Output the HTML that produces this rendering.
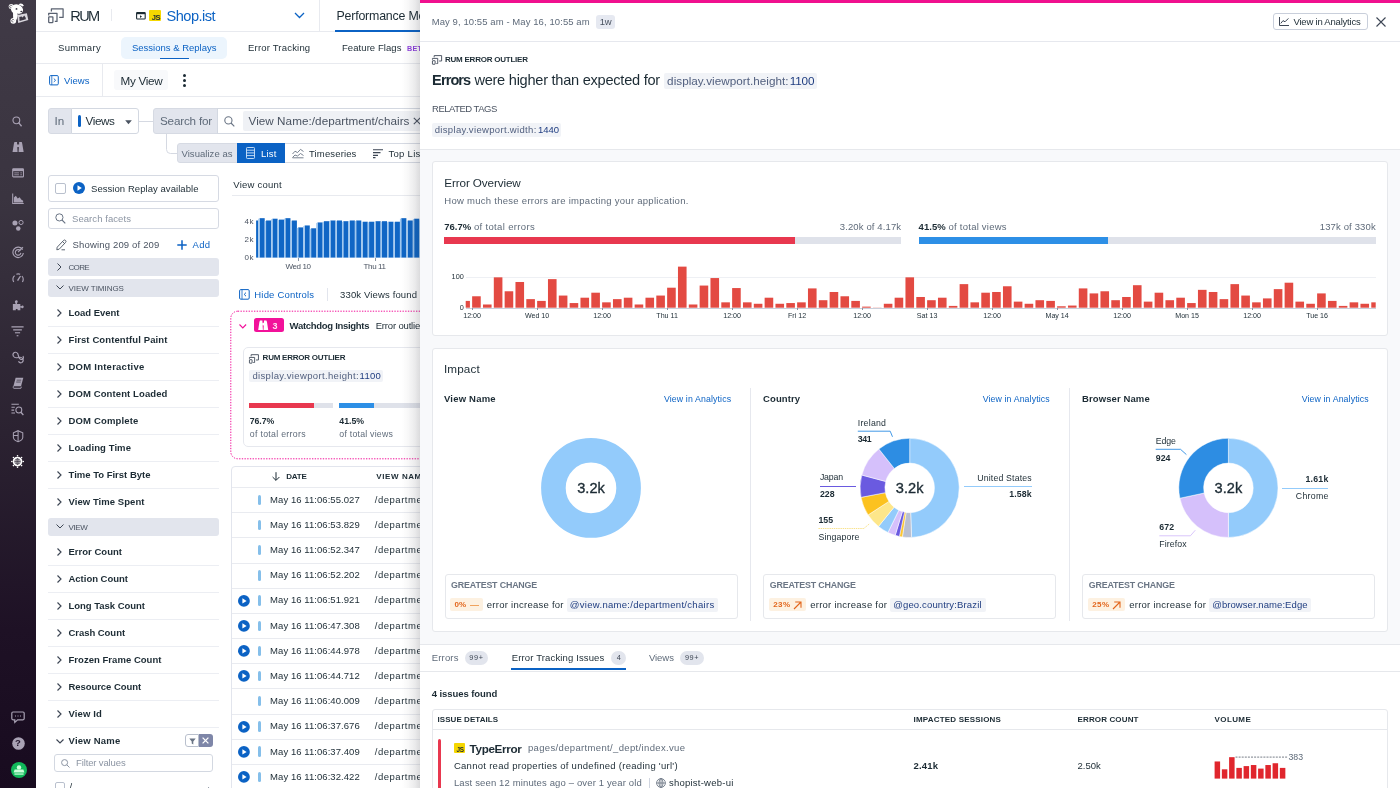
<!DOCTYPE html>
<html><head><meta charset="utf-8"><title>RUM</title>
<style>
html,body{margin:0;padding:0;}
body{width:1400px;height:788px;overflow:hidden;position:relative;background:#fff;font-family:"Liberation Sans",sans-serif;color:#1c2b34;}
.a{position:absolute;box-sizing:border-box;}
.t{white-space:pre;}
svg{overflow:visible;}
#root{position:absolute;left:0;top:0;width:1400px;height:788px;overflow:hidden;will-change:transform;}
</style></head><body><div id="root">
<div class="a" style="left:36px;top:30.6px;width:400px;height:1px;background:#e8eaef;"></div>
<div class="a" style="left:36px;top:62.6px;width:400px;height:1px;background:#e8eaef;"></div>
<div class="a" style="left:36px;top:96.2px;width:400px;height:1px;background:#e8eaef;"></div>
<svg class="a" style="left:48px;top:8px;" width="16" height="15" viewBox="0 0 16 15"><g fill="none" stroke="#596170" stroke-width="1.25" stroke-linejoin="round"><path d="M3.4 3.6V0.9H15.1V9.4H11.2"/><path d="M0.7 7.4V5.3H9V13.4H6.8"/><rect x="0.7" y="8.9" width="4.2" height="5.6" rx="0.4"/></g></svg>
<span class="a t" style="left:70.30px;top:6.67px;font-size:14.6px;line-height:19px;color:#1c2b34;letter-spacing:-1.678px;">RUM</span>
<div class="a" style="left:111px;top:8.6px;width:1px;height:12.2px;background:#e8eaef;"></div>
<svg class="a" style="left:136px;top:11.9px;" width="9.8" height="7.6" viewBox="0 0 9.8 7.6"><rect x="0.6" y="0.6" width="8.6" height="6.4" rx="0.8" fill="none" stroke="#1c2b34" stroke-width="1.1"/><rect x="0.6" y="0.4" width="8.6" height="1.8" fill="#1c2b34"/><path d="M4 3.3L6 4.6L4 5.9Z" fill="#1c2b34"/></svg>
<div class="a" style="left:148.9px;top:10px;width:11.7px;height:11.4px;background:#f5d800;border-radius:1px;"></div>
<span class="a t" style="left:151.80px;top:12.99px;font-size:7.6px;line-height:10px;color:#1c2b34;font-weight:700;letter-spacing:-0.444px;">JS</span>
<span class="a t" style="left:166.50px;top:6.57px;font-size:14.6px;line-height:19px;color:#0b62c4;letter-spacing:-0.529px;">Shop.ist</span>
<svg class="a" style="left:294px;top:12px;" width="11" height="7" viewBox="0 0 11 7"><path d="M1 1L5.5 5.5L10 1" fill="none" stroke="#0b62c4" stroke-width="1.3"/></svg>
<div class="a" style="left:319px;top:0px;width:1px;height:31px;background:#e8eaef;"></div>
<span class="a t" style="left:336.50px;top:7.64px;font-size:12.4px;line-height:16px;color:#1c2b34;letter-spacing:-0.199px;">Performance Mo</span>
<div class="a" style="left:335px;top:29.5px;width:90px;height:2.5px;background:#0b62c4;"></div>
<span class="a t" style="left:58.00px;top:41.61px;font-size:9.5px;line-height:12px;color:#1c2b34;letter-spacing:0.337px;">Summary</span>
<div class="a" style="left:121.3px;top:36.8px;width:105.6px;height:22.2px;background:#ecf5fd;border-radius:5px;"></div>
<span class="a t" style="left:132.00px;top:41.61px;font-size:9.5px;line-height:12px;color:#0b62c4;">Sessions &amp; Replays</span>
<div class="a" style="left:160px;top:57.7px;width:29px;height:1.7px;background:#0b62c4;"></div>
<span class="a t" style="left:248.00px;top:41.61px;font-size:9.5px;line-height:12px;color:#1c2b34;letter-spacing:0.191px;">Error Tracking</span>
<span class="a t" style="left:342.00px;top:41.61px;font-size:9.5px;line-height:12px;color:#1c2b34;letter-spacing:0.068px;">Feature Flags</span>
<span class="a t" style="left:407.00px;top:43.58px;font-size:7.2px;line-height:9px;color:#8d3fdd;font-weight:700;letter-spacing:0.242px;">BETA</span>
<svg class="a" style="left:48.8px;top:75px;" width="9.9" height="10.5" viewBox="0 0 9.9 10.5"><rect x="0.6" y="0.6" width="8.7" height="9.3" rx="1.1" fill="none" stroke="#0b62c4" stroke-width="1"/><path d="M2.8 0.6V9.9" stroke="#0b62c4" stroke-width="0.8"/><path d="M4.8 3.6L6.6 5.25L4.8 6.9" fill="none" stroke="#0b62c4" stroke-width="0.9"/></svg>
<span class="a t" style="left:64.00px;top:74.61px;font-size:9.5px;line-height:12px;color:#0b62c4;letter-spacing:0.066px;">Views</span>
<div class="a" style="left:102px;top:64px;width:1px;height:32px;background:#e8eaef;"></div>
<div class="a" style="left:114px;top:70px;width:54px;height:20px;background:#f8f9fb;border-radius:3px;"></div>
<span class="a t" style="left:120.50px;top:73.13px;font-size:11.7px;line-height:15px;color:#1c2b34;letter-spacing:-0.278px;">My View</span>
<div class="a" style="left:183.1px;top:74.3px;width:3px;height:3px;background:#1c2b34;border-radius:2px;"></div>
<div class="a" style="left:183.1px;top:78.95px;width:3px;height:3px;background:#1c2b34;border-radius:2px;"></div>
<div class="a" style="left:183.1px;top:83.6px;width:3px;height:3px;background:#1c2b34;border-radius:2px;"></div>
<div class="a" style="left:48px;top:108px;width:24px;height:26px;background:#e2e5ed;border:1px solid #d6dae3;border-radius:3px 0 0 3px;"></div>
<span class="a t" style="left:54.50px;top:113.13px;font-size:11.7px;line-height:15px;color:#5f6b7a;letter-spacing:0.126px;">In</span>
<div class="a" style="left:71px;top:108px;width:68px;height:26px;background:#fff;border:1px solid #d3d8e1;border-radius:0 3px 3px 0;"></div>
<div class="a" style="left:77.5px;top:115px;width:3px;height:12px;background:#0b62c4;border-radius:1.5px;"></div>
<span class="a t" style="left:85.50px;top:113.13px;font-size:11.7px;line-height:15px;color:#1c2b34;letter-spacing:-0.393px;">Views</span>
<svg class="a" style="left:125px;top:119.6px;" width="7" height="4.4" viewBox="0 0 7 4.4"><path d="M0.2 0.2H6.8L3.5 4.2Z" fill="#4a5361"/></svg>
<div class="a" style="left:139px;top:120.5px;width:14px;height:1px;background:#d5d9e2;"></div>
<div class="a" style="left:153px;top:108px;width:65px;height:26px;background:#e2e5ed;border:1px solid #d6dae3;border-radius:3px 0 0 3px;"></div>
<span class="a t" style="left:160.00px;top:113.13px;font-size:11.7px;line-height:15px;color:#5f6b7a;letter-spacing:-0.192px;">Search for</span>
<div class="a" style="left:217px;top:108px;width:230px;height:26px;background:#fff;border:1px solid #d3d8e1;"></div>
<svg class="a" style="left:224px;top:116px;" width="11" height="11" viewBox="0 0 11 11"><circle cx="4.4" cy="4.4" r="3.6" fill="none" stroke="#6a7585" stroke-width="1.1"/><path d="M7 7L10.3 10.3" stroke="#6a7585" stroke-width="1.2"/></svg>
<div class="a" style="left:243px;top:111px;width:190px;height:20px;background:#eff1f5;border-radius:2px;"></div>
<span class="a t" style="left:248.50px;top:113.13px;font-size:11.7px;line-height:15px;color:#4a5361;letter-spacing:0.051px;">View Name:/department/chairs</span>
<svg class="a" style="left:413px;top:117px;" width="8" height="8" viewBox="0 0 8 8"><path d="M0.8 0.8L7.2 7.2M7.2 0.8L0.8 7.2" stroke="#4a5361" stroke-width="1.1"/></svg>
<svg class="a" style="left:160px;top:134px;" width="20" height="22" viewBox="0 0 20 22"><path d="M6.5 0V15.5Q6.5 19.5 10.5 19.5H17" fill="none" stroke="#d5d9e2" stroke-width="1"/></svg>
<div class="a" style="left:177px;top:143px;width:61px;height:20px;background:#e2e5ed;border:1px solid #d6dae3;border-radius:3px 0 0 3px;"></div>
<span class="a t" style="left:181.50px;top:147.71px;font-size:9.5px;line-height:12px;color:#5f6b7a;letter-spacing:0.040px;">Visualize as</span>
<div class="a" style="left:237px;top:143px;width:48px;height:20px;background:#0b62c4;"></div>
<svg class="a" style="left:246px;top:147px;" width="9" height="12" viewBox="0 0 9 12"><g fill="none" stroke="#cfe4fb" stroke-width="0.9"><rect x="0.5" y="0.5" width="8" height="11" rx="0.8"/><path d="M0.5 3.2H8.5M0.5 5.9H8.5M0.5 8.6H8.5"/></g></svg>
<span class="a t" style="left:261.00px;top:147.71px;font-size:9.5px;line-height:12px;color:#fff;letter-spacing:0.179px;">List</span>
<div class="a" style="left:285px;top:143px;width:80px;height:20px;background:#fff;border:1px solid #d6dae3;border-left:none;"></div>
<svg class="a" style="left:292px;top:148px;" width="12" height="10" viewBox="0 0 12 10"><g fill="none" stroke="#6a7585" stroke-width="0.9"><path d="M0.5 6L3 3.2L5.5 4.6L8.5 1.4L11.5 3.5"/><path d="M0.5 9.5L3 7L5.5 8L8.5 5.5L11.5 7.5"/><path d="M0.5 9.8H11.5"/></g></svg>
<span class="a t" style="left:309.00px;top:147.71px;font-size:9.5px;line-height:12px;color:#1c2b34;letter-spacing:0.140px;">Timeseries</span>
<div class="a" style="left:364px;top:143px;width:80px;height:20px;background:#fff;border:1px solid #d6dae3;border-left:none;"></div>
<svg class="a" style="left:373px;top:149px;" width="10" height="9" viewBox="0 0 10 9"><g stroke="#3d4654" stroke-width="1.1"><path d="M0 0.8H10M0 3.6H7.5M0 6.4H5M0 8.6H2.5"/></g></svg>
<span class="a t" style="left:388.50px;top:147.71px;font-size:9.5px;line-height:12px;color:#1c2b34;letter-spacing:0.283px;">Top List</span>
<div class="a" style="left:48px;top:175px;width:171px;height:27px;background:#fff;border:1px solid #d6dae3;border-radius:3px;"></div>
<div class="a" style="left:55px;top:183px;width:11px;height:11px;background:#fff;border:1px solid #b9c0cd;border-radius:2px;"></div>
<svg class="a" style="left:72.8px;top:182.2px;" width="12" height="12" viewBox="0 0 12 12"><circle cx="6" cy="6" r="6" fill="#0b62c4"/><path d="M4.5 3.3L8.8 6L4.5 8.7Z" fill="#fff"/></svg>
<span class="a t" style="left:91.00px;top:182.61px;font-size:9.5px;line-height:12px;color:#1c2b34;letter-spacing:0.056px;">Session Replay available</span>
<div class="a" style="left:48px;top:208px;width:171px;height:20.5px;background:#fff;border:1px solid #d6dae3;border-radius:3px;"></div>
<svg class="a" style="left:55px;top:213px;" width="11" height="11" viewBox="0 0 11 11"><circle cx="4.4" cy="4.4" r="3.6" fill="none" stroke="#6a7585" stroke-width="1"/><path d="M7 7L10.3 10.3" stroke="#6a7585" stroke-width="1.1"/></svg>
<span class="a t" style="left:72.00px;top:212.61px;font-size:9.5px;line-height:12px;color:#8c95a3;letter-spacing:0.070px;">Search facets</span>
<svg class="a" style="left:56px;top:239px;" width="12" height="12" viewBox="0 0 12 12"><g fill="none" stroke="#4a5361" stroke-width="0.9"><path d="M1.2 8.2L7.6 1.4Q8.6 0.5 9.6 1.5Q10.5 2.4 9.6 3.4L3.2 10.2L0.8 10.8Z"/><path d="M6.6 2.6L8.6 4.6"/><path d="M5.5 10.8H9"/></g></svg>
<span class="a t" style="left:72.50px;top:238.61px;font-size:9.5px;line-height:12px;color:#4a5361;letter-spacing:0.168px;">Showing 209 of 209</span>
<svg class="a" style="left:177px;top:240px;" width="10" height="10" viewBox="0 0 10 10"><path d="M5 0.3V9.7M0.3 5H9.7" stroke="#0b62c4" stroke-width="1.5"/></svg>
<span class="a t" style="left:192.50px;top:238.61px;font-size:9.5px;line-height:12px;color:#0b62c4;letter-spacing:0.366px;">Add</span>
<div class="a" style="left:48px;top:258px;width:171px;height:17.5px;background:#e2e5ed;border-radius:3px;"></div>
<svg class="a" style="left:57px;top:263px;" width="5" height="8" viewBox="0 0 5 8"><path d="M0.5 0.5L4 4L0.5 7.5" fill="none" stroke="#3d4654" stroke-width="1"/></svg>
<span class="a t" style="left:68.50px;top:262.59px;font-size:8px;line-height:10px;color:#4a5361;letter-spacing:-0.653px;">CORE</span>
<div class="a" style="left:48px;top:279px;width:171px;height:17.5px;background:#e2e5ed;border-radius:3px;"></div>
<svg class="a" style="left:55.5px;top:285px;" width="8" height="5" viewBox="0 0 8 5"><path d="M0.5 0.5L4 4L7.5 0.5" fill="none" stroke="#3d4654" stroke-width="1"/></svg>
<span class="a t" style="left:68.50px;top:283.59px;font-size:8px;line-height:10px;color:#4a5361;letter-spacing:-0.042px;">VIEW TIMINGS</span>
<svg class="a" style="left:57px;top:308.5px;" width="5" height="8" viewBox="0 0 5 8"><path d="M0.5 0.5L4 4L0.5 7.5" fill="none" stroke="#3d4654" stroke-width="1.15"/></svg>
<span class="a t" style="left:68.50px;top:306.61px;font-size:9.5px;line-height:12px;color:#1c2b34;font-weight:700;letter-spacing:-0.020px;">Load Event</span>
<div class="a" style="left:48px;top:326.0px;width:171px;height:1px;background:#eceef3;"></div>
<svg class="a" style="left:57px;top:335.5px;" width="5" height="8" viewBox="0 0 5 8"><path d="M0.5 0.5L4 4L0.5 7.5" fill="none" stroke="#3d4654" stroke-width="1.15"/></svg>
<span class="a t" style="left:68.50px;top:333.61px;font-size:9.5px;line-height:12px;color:#1c2b34;font-weight:700;letter-spacing:0.110px;">First Contentful Paint</span>
<div class="a" style="left:48px;top:353.0px;width:171px;height:1px;background:#eceef3;"></div>
<svg class="a" style="left:57px;top:362.5px;" width="5" height="8" viewBox="0 0 5 8"><path d="M0.5 0.5L4 4L0.5 7.5" fill="none" stroke="#3d4654" stroke-width="1.15"/></svg>
<span class="a t" style="left:68.50px;top:360.61px;font-size:9.5px;line-height:12px;color:#1c2b34;font-weight:700;letter-spacing:0.245px;">DOM Interactive</span>
<div class="a" style="left:48px;top:380.0px;width:171px;height:1px;background:#eceef3;"></div>
<svg class="a" style="left:57px;top:389.5px;" width="5" height="8" viewBox="0 0 5 8"><path d="M0.5 0.5L4 4L0.5 7.5" fill="none" stroke="#3d4654" stroke-width="1.15"/></svg>
<span class="a t" style="left:68.50px;top:387.61px;font-size:9.5px;line-height:12px;color:#1c2b34;font-weight:700;letter-spacing:0.105px;">DOM Content Loaded</span>
<div class="a" style="left:48px;top:407.0px;width:171px;height:1px;background:#eceef3;"></div>
<svg class="a" style="left:57px;top:416.5px;" width="5" height="8" viewBox="0 0 5 8"><path d="M0.5 0.5L4 4L0.5 7.5" fill="none" stroke="#3d4654" stroke-width="1.15"/></svg>
<span class="a t" style="left:68.50px;top:414.61px;font-size:9.5px;line-height:12px;color:#1c2b34;font-weight:700;letter-spacing:0.159px;">DOM Complete</span>
<div class="a" style="left:48px;top:434.0px;width:171px;height:1px;background:#eceef3;"></div>
<svg class="a" style="left:57px;top:443.5px;" width="5" height="8" viewBox="0 0 5 8"><path d="M0.5 0.5L4 4L0.5 7.5" fill="none" stroke="#3d4654" stroke-width="1.15"/></svg>
<span class="a t" style="left:68.50px;top:441.61px;font-size:9.5px;line-height:12px;color:#1c2b34;font-weight:700;letter-spacing:0.077px;">Loading Time</span>
<div class="a" style="left:48px;top:461.0px;width:171px;height:1px;background:#eceef3;"></div>
<svg class="a" style="left:57px;top:470.5px;" width="5" height="8" viewBox="0 0 5 8"><path d="M0.5 0.5L4 4L0.5 7.5" fill="none" stroke="#3d4654" stroke-width="1.15"/></svg>
<span class="a t" style="left:68.50px;top:468.61px;font-size:9.5px;line-height:12px;color:#1c2b34;font-weight:700;">Time To First Byte</span>
<div class="a" style="left:48px;top:488.0px;width:171px;height:1px;background:#eceef3;"></div>
<svg class="a" style="left:57px;top:497.5px;" width="5" height="8" viewBox="0 0 5 8"><path d="M0.5 0.5L4 4L0.5 7.5" fill="none" stroke="#3d4654" stroke-width="1.15"/></svg>
<span class="a t" style="left:68.50px;top:495.61px;font-size:9.5px;line-height:12px;color:#1c2b34;font-weight:700;letter-spacing:0.057px;">View Time Spent</span>
<div class="a" style="left:48px;top:518px;width:171px;height:17.5px;background:#e2e5ed;border-radius:3px;"></div>
<svg class="a" style="left:55.5px;top:524px;" width="8" height="5" viewBox="0 0 8 5"><path d="M0.5 0.5L4 4L7.5 0.5" fill="none" stroke="#3d4654" stroke-width="1"/></svg>
<span class="a t" style="left:68.50px;top:522.59px;font-size:8px;line-height:10px;color:#4a5361;letter-spacing:-0.361px;">VIEW</span>
<svg class="a" style="left:57px;top:547.5px;" width="5" height="8" viewBox="0 0 5 8"><path d="M0.5 0.5L4 4L0.5 7.5" fill="none" stroke="#3d4654" stroke-width="1.15"/></svg>
<span class="a t" style="left:68.50px;top:545.61px;font-size:9.5px;line-height:12px;color:#1c2b34;font-weight:700;letter-spacing:0.018px;">Error Count</span>
<div class="a" style="left:48px;top:565.0px;width:171px;height:1px;background:#eceef3;"></div>
<svg class="a" style="left:57px;top:574.5px;" width="5" height="8" viewBox="0 0 5 8"><path d="M0.5 0.5L4 4L0.5 7.5" fill="none" stroke="#3d4654" stroke-width="1.15"/></svg>
<span class="a t" style="left:68.50px;top:572.61px;font-size:9.5px;line-height:12px;color:#1c2b34;font-weight:700;letter-spacing:-0.010px;">Action Count</span>
<div class="a" style="left:48px;top:592.0px;width:171px;height:1px;background:#eceef3;"></div>
<svg class="a" style="left:57px;top:601.5px;" width="5" height="8" viewBox="0 0 5 8"><path d="M0.5 0.5L4 4L0.5 7.5" fill="none" stroke="#3d4654" stroke-width="1.15"/></svg>
<span class="a t" style="left:68.50px;top:599.61px;font-size:9.5px;line-height:12px;color:#1c2b34;font-weight:700;letter-spacing:-0.025px;">Long Task Count</span>
<div class="a" style="left:48px;top:619.0px;width:171px;height:1px;background:#eceef3;"></div>
<svg class="a" style="left:57px;top:628.5px;" width="5" height="8" viewBox="0 0 5 8"><path d="M0.5 0.5L4 4L0.5 7.5" fill="none" stroke="#3d4654" stroke-width="1.15"/></svg>
<span class="a t" style="left:68.50px;top:626.61px;font-size:9.5px;line-height:12px;color:#1c2b34;font-weight:700;letter-spacing:-0.045px;">Crash Count</span>
<div class="a" style="left:48px;top:646.0px;width:171px;height:1px;background:#eceef3;"></div>
<svg class="a" style="left:57px;top:655.5px;" width="5" height="8" viewBox="0 0 5 8"><path d="M0.5 0.5L4 4L0.5 7.5" fill="none" stroke="#3d4654" stroke-width="1.15"/></svg>
<span class="a t" style="left:68.50px;top:653.61px;font-size:9.5px;line-height:12px;color:#1c2b34;font-weight:700;letter-spacing:0.035px;">Frozen Frame Count</span>
<div class="a" style="left:48px;top:673.0px;width:171px;height:1px;background:#eceef3;"></div>
<svg class="a" style="left:57px;top:682.5px;" width="5" height="8" viewBox="0 0 5 8"><path d="M0.5 0.5L4 4L0.5 7.5" fill="none" stroke="#3d4654" stroke-width="1.15"/></svg>
<span class="a t" style="left:68.50px;top:680.61px;font-size:9.5px;line-height:12px;color:#1c2b34;font-weight:700;letter-spacing:-0.062px;">Resource Count</span>
<div class="a" style="left:48px;top:700.0px;width:171px;height:1px;background:#eceef3;"></div>
<svg class="a" style="left:57px;top:709.5px;" width="5" height="8" viewBox="0 0 5 8"><path d="M0.5 0.5L4 4L0.5 7.5" fill="none" stroke="#3d4654" stroke-width="1.15"/></svg>
<span class="a t" style="left:68.50px;top:707.61px;font-size:9.5px;line-height:12px;color:#1c2b34;font-weight:700;letter-spacing:0.134px;">View Id</span>
<div class="a" style="left:48px;top:727.0px;width:171px;height:1px;background:#eceef3;"></div>
<svg class="a" style="left:55.5px;top:738.7px;" width="8" height="5" viewBox="0 0 8 5"><path d="M0.5 0.5L4 4L7.5 0.5" fill="none" stroke="#3d4654" stroke-width="1.15"/></svg>
<span class="a t" style="left:68.50px;top:734.61px;font-size:9.5px;line-height:12px;color:#1c2b34;font-weight:700;letter-spacing:0.223px;">View Name</span>
<div class="a" style="left:185px;top:734px;width:14px;height:13px;background:#fff;border:1px solid #b9c0cd;border-radius:3px 0 0 3px;"></div>
<svg class="a" style="left:188.5px;top:737.5px;" width="7" height="7" viewBox="0 0 7 7"><path d="M0.3 0.5H6.7L4.3 3.5V6.5L2.7 5.6V3.5Z" fill="#6a7585"/></svg>
<div class="a" style="left:198.5px;top:734px;width:14px;height:13px;background:#7e86a8;border-radius:0 3px 3px 0;"></div>
<svg class="a" style="left:202px;top:737px;" width="7" height="7" viewBox="0 0 7 7"><path d="M0.6 0.6L6.4 6.4M6.4 0.6L0.6 6.4" stroke="#fff" stroke-width="1.3"/></svg>
<div class="a" style="left:54px;top:754px;width:159px;height:17.5px;background:#fff;border:1px solid #d3d8e1;border-radius:3px;"></div>
<svg class="a" style="left:60.5px;top:758.5px;" width="9" height="9" viewBox="0 0 9 9"><circle cx="3.6" cy="3.6" r="3" fill="none" stroke="#8c95a3" stroke-width="1"/><path d="M5.8 5.8L8.5 8.5" stroke="#8c95a3" stroke-width="1"/></svg>
<span class="a t" style="left:76.00px;top:757.11px;font-size:9.5px;line-height:12px;color:#8c95a3;letter-spacing:-0.132px;">Filter values</span>
<div class="a" style="left:55px;top:782px;width:10px;height:10px;background:#fff;border:1px solid #b9c0cd;border-radius:2px;"></div>
<span class="a t" style="left:69.50px;top:781.11px;font-size:9.5px;line-height:12px;color:#1c2b34;">/</span>
<span class="a t" style="left:207.00px;top:781.11px;font-size:9.5px;line-height:12px;color:#8c95a3;">·</span>
<span class="a t" style="left:233.30px;top:179.41px;font-size:9.5px;line-height:12px;color:#1c2b34;letter-spacing:0.220px;">View count</span>
<div class="a" style="left:232px;top:195px;width:200px;height:1px;background:#e8eaef;"></div>
<span class="a t" style="left:244.53px;top:216.89px;font-size:8px;line-height:10px;color:#4a5361;letter-spacing:0.525px;">4k</span>
<span class="a t" style="left:244.53px;top:234.99px;font-size:8px;line-height:10px;color:#4a5361;letter-spacing:0.525px;">2k</span>
<span class="a t" style="left:244.53px;top:253.09px;font-size:8px;line-height:10px;color:#4a5361;letter-spacing:0.525px;">0k</span>
<svg class="a" style="left:250px;top:210px;" width="180" height="50" viewBox="0 0 180 50"><rect x="6.10" y="10.48" width="2.16" height="37.12" fill="#1066c5"/><rect x="9.60" y="8.17" width="5.10" height="39.43" fill="#1066c5"/><rect x="8.26" y="8.67" width="1.34" height="38.93" fill="#9fc8f0"/><rect x="16.04" y="10.48" width="5.10" height="37.12" fill="#1066c5"/><rect x="14.70" y="10.98" width="1.34" height="36.62" fill="#9fc8f0"/><rect x="22.48" y="8.70" width="5.10" height="38.90" fill="#1066c5"/><rect x="21.14" y="9.20" width="1.34" height="38.40" fill="#9fc8f0"/><rect x="28.92" y="9.59" width="5.10" height="38.01" fill="#1066c5"/><rect x="27.58" y="10.09" width="1.34" height="37.51" fill="#9fc8f0"/><rect x="35.36" y="8.17" width="5.10" height="39.43" fill="#1066c5"/><rect x="34.02" y="8.67" width="1.34" height="38.93" fill="#9fc8f0"/><rect x="41.80" y="10.48" width="5.10" height="37.12" fill="#1066c5"/><rect x="40.46" y="10.98" width="1.34" height="36.62" fill="#9fc8f0"/><rect x="48.24" y="17.40" width="5.10" height="30.20" fill="#1066c5"/><rect x="46.90" y="17.90" width="1.34" height="29.70" fill="#9fc8f0"/><rect x="54.68" y="15.45" width="5.10" height="32.15" fill="#1066c5"/><rect x="53.34" y="15.95" width="1.34" height="31.65" fill="#9fc8f0"/><rect x="61.12" y="18.29" width="5.10" height="29.31" fill="#1066c5"/><rect x="59.78" y="18.79" width="1.34" height="28.81" fill="#9fc8f0"/><rect x="67.56" y="12.43" width="5.10" height="35.17" fill="#1066c5"/><rect x="66.22" y="12.93" width="1.34" height="34.67" fill="#9fc8f0"/><rect x="74.00" y="11.19" width="5.10" height="36.41" fill="#1066c5"/><rect x="72.66" y="11.69" width="1.34" height="35.91" fill="#9fc8f0"/><rect x="80.44" y="10.48" width="5.10" height="37.12" fill="#1066c5"/><rect x="79.10" y="10.98" width="1.34" height="36.62" fill="#9fc8f0"/><rect x="86.88" y="10.48" width="5.10" height="37.12" fill="#1066c5"/><rect x="85.54" y="10.98" width="1.34" height="36.62" fill="#9fc8f0"/><rect x="93.32" y="11.19" width="5.10" height="36.41" fill="#1066c5"/><rect x="91.98" y="11.69" width="1.34" height="35.91" fill="#9fc8f0"/><rect x="99.76" y="10.48" width="5.10" height="37.12" fill="#1066c5"/><rect x="98.42" y="10.98" width="1.34" height="36.62" fill="#9fc8f0"/><rect x="106.20" y="10.48" width="5.10" height="37.12" fill="#1066c5"/><rect x="104.86" y="10.98" width="1.34" height="36.62" fill="#9fc8f0"/><rect x="112.64" y="11.72" width="5.10" height="35.88" fill="#1066c5"/><rect x="111.30" y="12.22" width="1.34" height="35.38" fill="#9fc8f0"/><rect x="119.08" y="11.72" width="5.10" height="35.88" fill="#1066c5"/><rect x="117.74" y="12.22" width="1.34" height="35.38" fill="#9fc8f0"/><rect x="125.52" y="11.19" width="5.10" height="36.41" fill="#1066c5"/><rect x="124.18" y="11.69" width="1.34" height="35.91" fill="#9fc8f0"/><rect x="131.96" y="11.19" width="5.10" height="36.41" fill="#1066c5"/><rect x="130.62" y="11.69" width="1.34" height="35.91" fill="#9fc8f0"/><rect x="138.40" y="11.72" width="5.10" height="35.88" fill="#1066c5"/><rect x="137.06" y="12.22" width="1.34" height="35.38" fill="#9fc8f0"/><rect x="144.84" y="11.72" width="5.10" height="35.88" fill="#1066c5"/><rect x="143.50" y="12.22" width="1.34" height="35.38" fill="#9fc8f0"/><rect x="151.28" y="8.17" width="5.10" height="39.43" fill="#1066c5"/><rect x="149.94" y="8.67" width="1.34" height="38.93" fill="#9fc8f0"/><rect x="157.72" y="10.48" width="5.10" height="37.12" fill="#1066c5"/><rect x="156.38" y="10.98" width="1.34" height="36.62" fill="#9fc8f0"/><rect x="164.16" y="8.70" width="5.10" height="38.90" fill="#1066c5"/><rect x="162.82" y="9.20" width="1.34" height="38.40" fill="#9fc8f0"/><rect x="170.60" y="9.94" width="5.10" height="37.66" fill="#1066c5"/><rect x="169.26" y="10.44" width="1.34" height="37.16" fill="#9fc8f0"/></svg>
<div class="a" style="left:298px;top:257.6px;width:1px;height:3px;background:#8c95a3;"></div>
<div class="a" style="left:374.5px;top:257.6px;width:1px;height:3px;background:#8c95a3;"></div>
<span class="a t" style="left:285.51px;top:261.79px;font-size:8px;line-height:10px;color:#4a5361;letter-spacing:-0.371px;">Wed 10</span>
<span class="a t" style="left:363.61px;top:261.79px;font-size:8px;line-height:10px;color:#4a5361;letter-spacing:-0.385px;">Thu 11</span>
<svg class="a" style="left:239.2px;top:289.4px;" width="11" height="11" viewBox="0 0 11 11"><rect x="0.6" y="0.6" width="9.6" height="9.6" rx="1.2" fill="none" stroke="#0b62c4" stroke-width="1"/><path d="M3 0.6V10.2" stroke="#0b62c4" stroke-width="0.8"/><path d="M7 3.6L5.2 5.4L7 7.2" fill="none" stroke="#0b62c4" stroke-width="1"/></svg>
<span class="a t" style="left:254.30px;top:288.91px;font-size:9.5px;line-height:12px;color:#0b62c4;letter-spacing:0.188px;">Hide Controls</span>
<div class="a" style="left:327px;top:288px;width:1px;height:12.5px;background:#e2e5ed;"></div>
<span class="a t" style="left:340.10px;top:288.91px;font-size:9.5px;line-height:12px;color:#1c2b34;letter-spacing:0.136px;">330k Views found</span>
<svg class="a" style="left:230px;top:310px;overflow:hidden;" width="200" height="150" viewBox="0 0 200 150"><rect x="0.8" y="1.2" width="240" height="147.6" rx="7" fill="none" stroke="#f2119a" stroke-width="1" stroke-dasharray="1.35 1.35"/></svg>
<svg class="a" style="left:238.8px;top:323.6px;" width="8" height="5" viewBox="0 0 8 5"><path d="M0.5 0.5L3.8 4L7.1 0.5" fill="none" stroke="#f2119a" stroke-width="1.1"/></svg>
<div class="a" style="left:254.4px;top:318.4px;width:29.2px;height:14px;background:#f2119a;border-radius:2.5px;"></div>
<svg class="a" style="left:258.2px;top:320.2px;" width="10.4" height="10.6" viewBox="0 0 10.4 10.6"><g fill="#fff"><path d="M2 0.4H4.4V2L4.9 10H0.2L1.4 2Z"/><path d="M6 0.4H8.4L9 2L10.2 10H5.5L6 2Z"/><rect x="4.2" y="2.8" width="2" height="2.6"/></g></svg>
<span class="a t" style="left:272.60px;top:319.90px;font-size:9px;line-height:12px;color:#ffe3f3;font-weight:700;">3</span>
<span class="a t" style="left:289.60px;top:320.01px;font-size:9.5px;line-height:12px;color:#1c2b34;font-weight:700;letter-spacing:-0.295px;">Watchdog Insights</span>
<span class="a t" style="left:375.70px;top:320.01px;font-size:9.5px;line-height:12px;color:#1c2b34;letter-spacing:-0.170px;">Error outliers</span>
<div class="a" style="left:243px;top:347px;width:220px;height:99.5px;background:#fff;border:1px solid #e6e8ee;border-radius:5px;"></div>
<svg class="a" style="left:249.4px;top:353.6px;" width="10" height="9.6" viewBox="0 0 16 15"><g fill="none" stroke="#4a5361" stroke-width="1.5" stroke-linejoin="round"><path d="M3.4 3.6V0.9H15.1V9.4H11.2"/><path d="M0.7 7.4V5.3H9V13.4H6.8"/><rect x="0.7" y="8.9" width="4.2" height="5.6" rx="0.4"/></g></svg>
<span class="a t" style="left:262.60px;top:353.39px;font-size:8px;line-height:10px;color:#1c2b34;font-weight:700;letter-spacing:-0.239px;">RUM ERROR OUTLIER</span>
<div class="a" style="left:249.4px;top:370.3px;width:134px;height:11.6px;background:#f1f3f7;border-radius:2px;"></div>
<span class="a t" style="left:252.40px;top:370.01px;font-size:9.5px;line-height:12px;color:#52607f;letter-spacing:0.352px;">display.viewport.height:</span>
<span class="a t" style="left:359.60px;top:370.01px;font-size:9.5px;line-height:12px;color:#1f3d80;letter-spacing:0.218px;">1100</span>
<div class="a" style="left:249.4px;top:403px;width:83.6px;height:5.4px;background:#dfe2ea;"></div>
<div class="a" style="left:249.4px;top:403px;width:64.3px;height:5.4px;background:#e8384f;"></div>
<div class="a" style="left:339.1px;top:403px;width:100px;height:5.4px;background:#dfe2ea;"></div>
<div class="a" style="left:339.1px;top:403px;width:34.7px;height:5.4px;background:#2d8fe6;"></div>
<span class="a t" style="left:249.80px;top:416.00px;font-size:8.75px;line-height:11px;color:#1c2b34;font-weight:700;letter-spacing:-0.102px;">76.7%</span>
<span class="a t" style="left:249.80px;top:429.00px;font-size:8.75px;line-height:11px;color:#5f6b7a;letter-spacing:0.297px;">of total errors</span>
<span class="a t" style="left:339.30px;top:416.00px;font-size:8.75px;line-height:11px;color:#1c2b34;font-weight:700;">41.5%</span>
<span class="a t" style="left:339.30px;top:429.00px;font-size:8.75px;line-height:11px;color:#5f6b7a;letter-spacing:0.230px;">of total views</span>
<div class="a" style="left:231px;top:465.6px;width:240px;height:340px;background:#fff;border:1px solid #e2e5ed;border-radius:4px;"></div>
<svg class="a" style="left:272px;top:472.3px;" width="8" height="9" viewBox="0 0 8 9"><path d="M4 0.2V8.2M0.6 5L4 8.4L7.4 5" fill="none" stroke="#1c2b34" stroke-width="1"/></svg>
<span class="a t" style="left:286.30px;top:472.29px;font-size:8px;line-height:10px;color:#1c2b34;font-weight:700;letter-spacing:-0.221px;">DATE</span>
<span class="a t" style="left:376.30px;top:472.29px;font-size:8px;line-height:10px;color:#1c2b34;font-weight:700;letter-spacing:0.586px;">VIEW NAME</span>
<div class="a" style="left:232px;top:487.09999999999997px;width:239px;height:1px;background:#e9ebf0;"></div>
<div class="a" style="left:257.6px;top:494.7px;width:3px;height:10.4px;background:#85bfea;border-radius:1.5px;"></div>
<span class="a t" style="left:270.10px;top:493.81px;font-size:9.5px;line-height:12px;color:#1c2b34;letter-spacing:0.060px;">May 16 11:06:55.027</span>
<span class="a t" style="left:374.80px;top:493.81px;font-size:9.5px;line-height:12px;color:#1c2b34;letter-spacing:0.518px;">/department/chairs</span>
<div class="a" style="left:232px;top:512.27px;width:239px;height:1px;background:#e9ebf0;"></div>
<div class="a" style="left:257.6px;top:519.87px;width:3px;height:10.4px;background:#85bfea;border-radius:1.5px;"></div>
<span class="a t" style="left:270.10px;top:518.98px;font-size:9.5px;line-height:12px;color:#1c2b34;letter-spacing:0.060px;">May 16 11:06:53.829</span>
<span class="a t" style="left:374.80px;top:518.98px;font-size:9.5px;line-height:12px;color:#1c2b34;letter-spacing:0.518px;">/department/chairs</span>
<div class="a" style="left:232px;top:537.4399999999999px;width:239px;height:1px;background:#e9ebf0;"></div>
<div class="a" style="left:257.6px;top:545.04px;width:3px;height:10.4px;background:#85bfea;border-radius:1.5px;"></div>
<span class="a t" style="left:270.10px;top:544.15px;font-size:9.5px;line-height:12px;color:#1c2b34;letter-spacing:0.060px;">May 16 11:06:52.347</span>
<span class="a t" style="left:374.80px;top:544.15px;font-size:9.5px;line-height:12px;color:#1c2b34;letter-spacing:0.518px;">/department/chairs</span>
<div class="a" style="left:232px;top:562.61px;width:239px;height:1px;background:#e9ebf0;"></div>
<div class="a" style="left:257.6px;top:570.21px;width:3px;height:10.4px;background:#85bfea;border-radius:1.5px;"></div>
<span class="a t" style="left:270.10px;top:569.32px;font-size:9.5px;line-height:12px;color:#1c2b34;letter-spacing:0.060px;">May 16 11:06:52.202</span>
<span class="a t" style="left:374.80px;top:569.32px;font-size:9.5px;line-height:12px;color:#1c2b34;letter-spacing:0.518px;">/department/chairs</span>
<div class="a" style="left:232px;top:587.78px;width:239px;height:1px;background:#e9ebf0;"></div>
<div class="a" style="left:257.6px;top:595.38px;width:3px;height:10.4px;background:#85bfea;border-radius:1.5px;"></div>
<span class="a t" style="left:270.10px;top:594.49px;font-size:9.5px;line-height:12px;color:#1c2b34;letter-spacing:0.060px;">May 16 11:06:51.921</span>
<span class="a t" style="left:374.80px;top:594.49px;font-size:9.5px;line-height:12px;color:#1c2b34;letter-spacing:0.518px;">/department/chairs</span>
<svg class="a" style="left:237.6px;top:594.6800000000001px;" width="11.8" height="11.8" viewBox="0 0 11.8 11.8"><circle cx="5.9" cy="5.9" r="5.9" fill="#0b62c4"/><path d="M4.4 3.2L8.6 5.9L4.4 8.6Z" fill="#fff"/></svg>
<div class="a" style="left:232px;top:612.9499999999999px;width:239px;height:1px;background:#e9ebf0;"></div>
<div class="a" style="left:257.6px;top:620.55px;width:3px;height:10.4px;background:#85bfea;border-radius:1.5px;"></div>
<span class="a t" style="left:270.10px;top:619.66px;font-size:9.5px;line-height:12px;color:#1c2b34;letter-spacing:0.060px;">May 16 11:06:47.308</span>
<span class="a t" style="left:374.80px;top:619.66px;font-size:9.5px;line-height:12px;color:#1c2b34;letter-spacing:0.518px;">/department/chairs</span>
<svg class="a" style="left:237.6px;top:619.85px;" width="11.8" height="11.8" viewBox="0 0 11.8 11.8"><circle cx="5.9" cy="5.9" r="5.9" fill="#0b62c4"/><path d="M4.4 3.2L8.6 5.9L4.4 8.6Z" fill="#fff"/></svg>
<div class="a" style="left:232px;top:638.12px;width:239px;height:1px;background:#e9ebf0;"></div>
<div class="a" style="left:257.6px;top:645.72px;width:3px;height:10.4px;background:#85bfea;border-radius:1.5px;"></div>
<span class="a t" style="left:270.10px;top:644.83px;font-size:9.5px;line-height:12px;color:#1c2b34;letter-spacing:0.060px;">May 16 11:06:44.978</span>
<span class="a t" style="left:374.80px;top:644.83px;font-size:9.5px;line-height:12px;color:#1c2b34;letter-spacing:0.518px;">/department/chairs</span>
<svg class="a" style="left:237.6px;top:645.0200000000001px;" width="11.8" height="11.8" viewBox="0 0 11.8 11.8"><circle cx="5.9" cy="5.9" r="5.9" fill="#0b62c4"/><path d="M4.4 3.2L8.6 5.9L4.4 8.6Z" fill="#fff"/></svg>
<div class="a" style="left:232px;top:663.29px;width:239px;height:1px;background:#e9ebf0;"></div>
<div class="a" style="left:257.6px;top:670.89px;width:3px;height:10.4px;background:#85bfea;border-radius:1.5px;"></div>
<span class="a t" style="left:270.10px;top:670.00px;font-size:9.5px;line-height:12px;color:#1c2b34;letter-spacing:0.060px;">May 16 11:06:44.712</span>
<span class="a t" style="left:374.80px;top:670.00px;font-size:9.5px;line-height:12px;color:#1c2b34;letter-spacing:0.518px;">/department/chairs</span>
<svg class="a" style="left:237.6px;top:670.19px;" width="11.8" height="11.8" viewBox="0 0 11.8 11.8"><circle cx="5.9" cy="5.9" r="5.9" fill="#0b62c4"/><path d="M4.4 3.2L8.6 5.9L4.4 8.6Z" fill="#fff"/></svg>
<div class="a" style="left:232px;top:688.4599999999999px;width:239px;height:1px;background:#e9ebf0;"></div>
<div class="a" style="left:257.6px;top:696.06px;width:3px;height:10.4px;background:#85bfea;border-radius:1.5px;"></div>
<span class="a t" style="left:270.10px;top:695.17px;font-size:9.5px;line-height:12px;color:#1c2b34;letter-spacing:0.060px;">May 16 11:06:40.009</span>
<span class="a t" style="left:374.80px;top:695.17px;font-size:9.5px;line-height:12px;color:#1c2b34;letter-spacing:0.518px;">/department/chairs</span>
<div class="a" style="left:232px;top:713.63px;width:239px;height:1px;background:#e9ebf0;"></div>
<div class="a" style="left:257.6px;top:721.23px;width:3px;height:10.4px;background:#85bfea;border-radius:1.5px;"></div>
<span class="a t" style="left:270.10px;top:720.34px;font-size:9.5px;line-height:12px;color:#1c2b34;letter-spacing:0.060px;">May 16 11:06:37.676</span>
<span class="a t" style="left:374.80px;top:720.34px;font-size:9.5px;line-height:12px;color:#1c2b34;letter-spacing:0.518px;">/department/chairs</span>
<svg class="a" style="left:237.6px;top:720.5300000000001px;" width="11.8" height="11.8" viewBox="0 0 11.8 11.8"><circle cx="5.9" cy="5.9" r="5.9" fill="#0b62c4"/><path d="M4.4 3.2L8.6 5.9L4.4 8.6Z" fill="#fff"/></svg>
<div class="a" style="left:232px;top:738.8px;width:239px;height:1px;background:#e9ebf0;"></div>
<div class="a" style="left:257.6px;top:746.4px;width:3px;height:10.4px;background:#85bfea;border-radius:1.5px;"></div>
<span class="a t" style="left:270.10px;top:745.51px;font-size:9.5px;line-height:12px;color:#1c2b34;letter-spacing:0.060px;">May 16 11:06:37.409</span>
<span class="a t" style="left:374.80px;top:745.51px;font-size:9.5px;line-height:12px;color:#1c2b34;letter-spacing:0.518px;">/department/chairs</span>
<svg class="a" style="left:237.6px;top:745.7px;" width="11.8" height="11.8" viewBox="0 0 11.8 11.8"><circle cx="5.9" cy="5.9" r="5.9" fill="#0b62c4"/><path d="M4.4 3.2L8.6 5.9L4.4 8.6Z" fill="#fff"/></svg>
<div class="a" style="left:232px;top:763.9699999999999px;width:239px;height:1px;background:#e9ebf0;"></div>
<div class="a" style="left:257.6px;top:771.5699999999999px;width:3px;height:10.4px;background:#85bfea;border-radius:1.5px;"></div>
<span class="a t" style="left:270.10px;top:770.68px;font-size:9.5px;line-height:12px;color:#1c2b34;letter-spacing:0.060px;">May 16 11:06:32.422</span>
<span class="a t" style="left:374.80px;top:770.68px;font-size:9.5px;line-height:12px;color:#1c2b34;letter-spacing:0.518px;">/department/chairs</span>
<svg class="a" style="left:237.6px;top:770.87px;" width="11.8" height="11.8" viewBox="0 0 11.8 11.8"><circle cx="5.9" cy="5.9" r="5.9" fill="#0b62c4"/><path d="M4.4 3.2L8.6 5.9L4.4 8.6Z" fill="#fff"/></svg>
<div class="a" style="left:402px;top:0px;width:18px;height:788px;background:linear-gradient(90deg,rgba(40,40,50,0) 0%,rgba(40,40,50,0.035) 35%,rgba(40,40,50,0.09) 70%,rgba(40,40,50,0.17) 100%);"></div>
<div class="a" style="left:0px;top:0px;width:36.4px;height:788px;background:linear-gradient(180deg,#403a46 0%,#3a3440 25%,#2b2231 55%,#1e1125 80%,#180b1f 100%);"></div>
<svg class="a" style="left:4px;top:0px;" width="30" height="28" viewBox="0 0 30 28"><g fill="#fff"><circle cx="7.2" cy="6.6" r="2.5"/><ellipse cx="13" cy="9.4" rx="6.2" ry="5" transform="rotate(18 13 9.4)"/><path d="M14.6 4.6Q16.4 2.6 18.6 4L19.9 5.8L18.4 6.6L17 5.6Z"/><path d="M9 12.5L14 14.6L12.6 19.8L9.2 19.4Z"/><circle cx="9.3" cy="20.8" r="2.9"/><path d="M13.2 15L22.9 13.2L24.3 19.9L14.2 22.9Z" fill="#d9d6dd"/></g><g fill="#3d3844"><circle cx="12.5" cy="8.9" r="0.95"/><ellipse cx="17.3" cy="11.5" rx="1" ry="0.8"/><path d="M15.3 17L17.6 16.4L18.6 17.4L20.2 15.4L21.6 17.6L21.9 19.3L15.6 20.9Z"/></g><g fill="none" stroke="#3d3844"><path d="M13 13.9Q15 14.8 17 13.6" stroke-width="0.6"/><path d="M8.2 6.2A1.3 1.3 0 1 0 7.4 7.8" stroke-width="0.7"/><path d="M10.2 20.2A1.3 1.3 0 1 0 9.4 22" stroke-width="0.7"/></g></svg>
<svg class="a" style="left:12.28px;top:115.84px;" width="10.44" height="11.31" viewBox="0 0 12 13"><circle cx="5" cy="5" r="3.9" fill="none" stroke="#a9a2b4" stroke-width="1.3"/><path d="M7.8 8L11 11.8" stroke="#a9a2b4" stroke-width="1.5"/></svg>
<svg class="a" style="left:11.91px;top:140.91px;" width="12.18" height="12.18" viewBox="0 0 14 14"><g fill="#a9a2b4"><path d="M2.8 1.2H5.8V3.2L6.4 12.6H0.6L2.2 3.2Z"/><path d="M8.2 1.2H11.2L11.8 3.2L13.4 12.6H7.6L8.2 3.2Z"/><rect x="5.6" y="4" width="2.8" height="3"/></g></svg>
<svg class="a" style="left:11.91px;top:167.72px;" width="12.18" height="9.57" viewBox="0 0 14 11"><g fill="none" stroke="#a9a2b4" stroke-width="1.2"><rect x="0.8" y="0.8" width="12.4" height="9.4" rx="0.8"/></g><rect x="1" y="1" width="12" height="2.6" fill="#a9a2b4"/><path d="M2.6 5.6H8M2.6 7.8H8M9.6 5.6H11.4M9.6 7.8H11.4" stroke="#a9a2b4" stroke-width="0.9"/></svg>
<svg class="a" style="left:11.91px;top:192.84px;" width="12.18" height="11.31" viewBox="0 0 14 13"><path d="M0.8 0.5V12.2H13.5" fill="none" stroke="#a9a2b4" stroke-width="1.2"/><path d="M2.2 11V5.2L4.4 3.2L6.6 6.4L8.8 4.8L10.6 7.6L12.8 9V11Z" fill="#a9a2b4"/></svg>
<svg class="a" style="left:11.91px;top:218.91px;" width="12.18" height="12.18" viewBox="0 0 14 14"><g fill="#a9a2b4"><circle cx="3.4" cy="4.6" r="2.9"/><circle cx="7.2" cy="10.8" r="2.6"/></g><circle cx="10.4" cy="4" r="2.4" fill="none" stroke="#a9a2b4" stroke-width="1.1"/></svg>
<svg class="a" style="left:11.91px;top:245.91px;" width="12.18" height="12.18" viewBox="0 0 14 14"><g fill="none" stroke="#a9a2b4" stroke-width="1.3"><path d="M12.2 4.2A6 6 0 1 0 13 8"/><path d="M9.6 5.4A3.2 3.2 0 1 0 10.2 8"/><path d="M7 7L12.6 1.4"/></g></svg>
<svg class="a" style="left:11.91px;top:271.85px;" width="12.18" height="11.31" viewBox="0 0 14 13"><g fill="none" stroke="#a9a2b4" stroke-width="1.3"><path d="M2 11.5A6 6 0 0 1 3 4.2"/><path d="M5 2.6A6 6 0 0 1 9.4 2.7"/><path d="M11.4 4.6A6 6 0 0 1 12 11.5"/><path d="M6.4 10L9.8 4.6" stroke-width="1.6"/></g></svg>
<svg class="a" style="left:11.91px;top:298.91px;" width="12.18" height="12.18" viewBox="0 0 14 14"><path d="M1 5.8H4V4.6Q3 3.8 3.4 2.6Q4 1.2 5.4 1.4Q6.8 1.8 6.6 3.2Q6.4 4 5.8 4.6V5.8H9.6V8.4H10.6Q11.4 7.2 12.6 7.6Q13.8 8.2 13.4 9.6Q12.8 10.8 11.6 10.6Q11 10.4 10.6 9.8H9.6V13H6.4V11.6H4.4V13H1Z" fill="#a9a2b4"/></svg>
<svg class="a" style="left:11.47px;top:325.85px;" width="13.05" height="11.31" viewBox="0 0 15 13"><g stroke="#a9a2b4" stroke-width="1.3"><path d="M0.5 1H14.5M2.5 4.4H12.5"/><path d="M4.5 7.8H10.5" /><path d="M6.5 11.2H8.5"/></g></svg>
<svg class="a" style="left:11.91px;top:350.98px;" width="12.18" height="13.05" viewBox="0 0 14 15"><g fill="none" stroke="#a9a2b4" stroke-width="1.3"><path d="M6.8 7.4Q3.4 8.6 1.6 6Q0.2 3.4 2.6 1.8Q5 0.6 6.6 3L8 7.4Q9.6 10.6 12 9.4Q14 8 12.6 5.8"/><path d="M7.2 7.6Q10.6 6.4 12.4 9Q13.8 11.6 11.4 13.2Q9 14.4 7.4 12"/></g></svg>
<svg class="a" style="left:11.91px;top:376.91px;" width="12.18" height="12.18" viewBox="0 0 14 14"><path d="M4.2 1H13L10.4 10.6H1.6Z" fill="#a9a2b4"/><path d="M1.6 10.6Q0.6 12.6 2.2 13H10.2L10.8 11.2" fill="none" stroke="#a9a2b4" stroke-width="1.1"/><path d="M5.4 3.6H10.6M4.8 5.8H10" stroke="#332d3b" stroke-width="0.8"/></svg>
<svg class="a" style="left:11.47px;top:402.98px;" width="13.05" height="13.05" viewBox="0 0 15 15"><g stroke="#a9a2b4" stroke-width="1.2" fill="none"><path d="M0.5 1.4H9M0.5 4.8H4.4M0.5 8.2H3.6M0.5 11.6H4.6"/><circle cx="9" cy="8" r="3.4"/><path d="M11.4 10.6L14.2 13.8" stroke-width="1.5"/></g></svg>
<svg class="a" style="left:11.91px;top:429.91px;" width="12.18" height="12.18" viewBox="0 0 14 14"><g fill="none" stroke="#a9a2b4" stroke-width="1.2"><path d="M7 0.8L12.4 3.2V8.6Q12 12 7 13.4Q2 12 1.6 8.6V3.2Z"/><path d="M7 0.8V13.4M1.6 6.4H7"/></g></svg>
<svg class="a" style="left:11.47px;top:455.48px;" width="13.05" height="13.05" viewBox="0 0 15 15"><circle cx="7.5" cy="7.5" r="5.6" fill="#fff"/><g fill="#fff"><circle cx="7.5" cy="0.9" r="0.9"/><circle cx="7.5" cy="14.1" r="0.9"/><circle cx="0.9" cy="7.5" r="0.9"/><circle cx="14.1" cy="7.5" r="0.9"/><circle cx="2.8" cy="2.8" r="0.9"/><circle cx="12.2" cy="2.8" r="0.9"/><circle cx="2.8" cy="12.2" r="0.9"/><circle cx="12.2" cy="12.2" r="0.9"/></g><g fill="none" stroke="#2a2232" stroke-width="0.7"><circle cx="7.5" cy="7.5" r="3.2"/><path d="M4.3 7.5H10.7M7.5 4.3V10.7"/><ellipse cx="7.5" cy="7.5" rx="1.5" ry="3.2"/></g></svg>
<svg class="a" style="left:11px;top:711px;" width="14" height="13" viewBox="0 0 14 13"><path d="M2 1H12Q13.2 1 13.2 2.2V7.6Q13.2 8.8 12 8.8H6.6L3.8 11.4V8.8H2Q0.8 8.8 0.8 7.6V2.2Q0.8 1 2 1Z" fill="none" stroke="#a9a2b4" stroke-width="1.2"/><path d="M4 5H5M6.5 5H7.5M9 5H10" stroke="#a9a2b4" stroke-width="1"/></svg>
<svg class="a" style="left:11.5px;top:737px;" width="13" height="13" viewBox="0 0 13 13"><circle cx="6.5" cy="6.5" r="6.3" fill="#a9a2b4"/></svg>
<span class="a t" style="left:15.00px;top:737.41px;font-size:9.5px;line-height:12px;color:#1f1329;font-weight:700;">?</span>
<svg class="a" style="left:10.5px;top:761.5px;" width="16" height="16" viewBox="0 0 16 16"><circle cx="8" cy="8" r="8" fill="#10b85a"/><g fill="#c9ffd9"><circle cx="8" cy="5.4" r="2.2"/><path d="M3.6 7.6H12.4L13.4 10.6H2.6Z"/><rect x="3.4" y="11.4" width="9.2" height="1.3"/></g></svg>
<div class="a" style="left:420.4px;top:0px;width:980px;height:788px;background:#fff;"></div>
<div class="a" style="left:420.4px;top:0px;width:980px;height:3px;background:#f0108e;"></div>
<span class="a t" style="left:431.70px;top:16.11px;font-size:9.5px;line-height:12px;color:#5f6b7a;letter-spacing:0.081px;">May 9, 10:55 am - May 16, 10:55 am</span>
<div class="a" style="left:596px;top:15.4px;width:18.7px;height:13.5px;background:#e6e9f1;border-radius:3px;"></div>
<span class="a t" style="left:599.70px;top:16.11px;font-size:9.5px;line-height:12px;color:#4a5361;letter-spacing:-0.172px;">1w</span>
<div class="a" style="left:1272.5px;top:13.3px;width:95px;height:17.2px;background:#fff;border:1px solid #c9cfdb;border-radius:3px;"></div>
<svg class="a" style="left:1279px;top:17px;" width="10" height="9" viewBox="0 0 10 9"><g fill="none" stroke="#3d4654" stroke-width="1"><path d="M0.5 0V8.5H10"/><path d="M1.8 6.4L4 3.6L6 4.8L9.4 1.4"/></g></svg>
<span class="a t" style="left:1293.50px;top:16.11px;font-size:9.5px;line-height:12px;color:#1c2b34;letter-spacing:-0.212px;">View in Analytics</span>
<svg class="a" style="left:1376px;top:17px;" width="10" height="10" viewBox="0 0 10 10"><path d="M0.5 0.5L9.5 9.5M9.5 0.5L0.5 9.5" stroke="#3d4654" stroke-width="1.1"/></svg>
<div class="a" style="left:420.4px;top:40.5px;width:980px;height:1px;background:#e6e8ee;"></div>
<svg class="a" style="left:431.7px;top:54.5px;" width="10.2" height="9.6" viewBox="0 0 16 15"><g fill="none" stroke="#4a5361" stroke-width="1.5" stroke-linejoin="round"><path d="M3.4 3.6V0.9H15.1V9.4H11.2"/><path d="M0.7 7.4V5.3H9V13.4H6.8"/><rect x="0.7" y="8.9" width="4.2" height="5.6" rx="0.4"/></g></svg>
<span class="a t" style="left:445.00px;top:54.59px;font-size:8px;line-height:10px;color:#1c2b34;font-weight:700;letter-spacing:-0.233px;">RUM ERROR OUTLIER</span>
<span class="a t" style="left:432.10px;top:71.47px;font-size:14.6px;line-height:19px;color:#1c2b34;font-weight:700;letter-spacing:-0.934px;">Errors</span>
<span class="a t" style="left:474.40px;top:71.47px;font-size:14.6px;line-height:19px;color:#1c2b34;letter-spacing:-0.261px;">were higher than expected for</span>
<div class="a" style="left:663.6px;top:73px;width:153.6px;height:16.4px;background:#f1f3f7;border-radius:2px;"></div>
<span class="a t" style="left:667.10px;top:73.23px;font-size:11.7px;line-height:15px;color:#52607f;letter-spacing:0.037px;">display.viewport.height:</span>
<span class="a t" style="left:789.80px;top:73.23px;font-size:11.7px;line-height:15px;color:#1f3d80;letter-spacing:-0.158px;">1100</span>
<span class="a t" style="left:432.10px;top:103.11px;font-size:9.5px;line-height:12px;color:#4a5361;letter-spacing:-0.509px;">RELATED TAGS</span>
<div class="a" style="left:432.1px;top:122.6px;width:129.3px;height:14.1px;background:#f1f3f7;border-radius:2px;"></div>
<span class="a t" style="left:434.70px;top:123.81px;font-size:9.5px;line-height:12px;color:#52607f;letter-spacing:0.333px;">display.viewport.width:</span>
<span class="a t" style="left:538.00px;top:123.81px;font-size:9.5px;line-height:12px;color:#1f3d80;letter-spacing:-0.033px;">1440</span>
<div class="a" style="left:420.4px;top:149.5px;width:980px;height:494.5px;background:#f8f9fb;"></div>
<div class="a" style="left:420.4px;top:149px;width:980px;height:1px;background:#e6e8ec;"></div>
<div class="a" style="left:420.4px;top:643.5px;width:980px;height:1px;background:#e6e8ec;"></div>
<div class="a" style="left:432.2px;top:161.2px;width:956.2px;height:174.7px;background:#fff;border:1px solid #e6e8ec;border-radius:3px;"></div>
<span class="a t" style="left:444.30px;top:174.63px;font-size:11.7px;line-height:15px;color:#1c2b34;letter-spacing:-0.109px;">Error Overview</span>
<span class="a t" style="left:444.30px;top:194.61px;font-size:9.5px;line-height:12px;color:#5f6b7a;letter-spacing:0.276px;">How much these errors are impacting your application.</span>
<span class="a t" style="left:444.30px;top:220.51px;font-size:9.5px;line-height:12px;color:#1c2b34;font-weight:700;letter-spacing:-0.027px;">76.7%</span>
<span class="a t" style="left:473.90px;top:220.51px;font-size:9.5px;line-height:12px;color:#5f6b7a;letter-spacing:0.342px;">of total errors</span>
<span class="a t" style="left:839.73px;top:220.51px;font-size:9.5px;line-height:12px;color:#5f6b7a;letter-spacing:0.130px;">3.20k of 4.17k</span>
<div class="a" style="left:444.3px;top:236.9px;width:456.8px;height:6.7px;background:#dfe2ea;"></div>
<div class="a" style="left:444.3px;top:236.9px;width:350.3px;height:6.7px;background:#e8384f;"></div>
<span class="a t" style="left:918.60px;top:220.51px;font-size:9.5px;line-height:12px;color:#1c2b34;font-weight:700;letter-spacing:0.033px;">41.5%</span>
<span class="a t" style="left:948.60px;top:220.51px;font-size:9.5px;line-height:12px;color:#5f6b7a;letter-spacing:0.235px;">of total views</span>
<span class="a t" style="left:1319.74px;top:220.51px;font-size:9.5px;line-height:12px;color:#5f6b7a;letter-spacing:0.141px;">137k of 330k</span>
<div class="a" style="left:918.6px;top:236.9px;width:457.1px;height:6.7px;background:#dfe2ea;"></div>
<div class="a" style="left:918.6px;top:236.9px;width:189.6px;height:6.7px;background:#2d8fe6;"></div>
<span class="a t" style="left:451.61px;top:272.38px;font-size:7.3px;line-height:9px;color:#1c2b34;letter-spacing:0.008px;">100</span>
<span class="a t" style="left:459.74px;top:303.18px;font-size:7.3px;line-height:9px;color:#1c2b34;">0</span>
<div class="a" style="left:465.7px;top:276.6px;width:910px;height:0.7px;background:#eef0f4;"></div>
<svg class="a" style="left:460px;top:260px;" width="920" height="50" viewBox="0 0 920 50"><g fill="#e34a42"><rect x="5.70" y="40.91" width="4.21" height="6.79"/><rect x="12.14" y="36.27" width="8.60" height="11.43"/><rect x="22.98" y="44.49" width="8.60" height="3.21"/><rect x="33.81" y="17.34" width="8.60" height="30.36"/><rect x="44.64" y="31.27" width="8.60" height="16.43"/><rect x="55.47" y="21.99" width="8.60" height="25.71"/><rect x="66.31" y="39.13" width="8.60" height="8.57"/><rect x="77.14" y="40.91" width="8.60" height="6.79"/><rect x="87.97" y="19.13" width="8.60" height="28.57"/><rect x="98.81" y="35.56" width="8.60" height="12.14"/><rect x="109.64" y="43.06" width="8.60" height="4.64"/><rect x="120.47" y="37.70" width="8.60" height="10.00"/><rect x="131.31" y="32.70" width="8.60" height="15.00"/><rect x="142.14" y="42.34" width="8.60" height="5.36"/><rect x="152.97" y="39.13" width="8.60" height="8.57"/><rect x="163.80" y="37.70" width="8.60" height="10.00"/><rect x="174.64" y="44.49" width="8.60" height="3.21"/><rect x="185.47" y="37.70" width="8.60" height="10.00"/><rect x="196.30" y="35.56" width="8.60" height="12.14"/><rect x="207.14" y="27.70" width="8.60" height="20.00"/><rect x="217.97" y="6.63" width="8.60" height="41.07"/><rect x="228.80" y="44.49" width="8.60" height="3.21"/><rect x="239.64" y="25.56" width="8.60" height="22.14"/><rect x="250.47" y="18.06" width="8.60" height="29.64"/><rect x="261.30" y="42.34" width="8.60" height="5.36"/><rect x="272.13" y="28.06" width="8.60" height="19.64"/><rect x="282.97" y="42.34" width="8.60" height="5.36"/><rect x="293.80" y="43.77" width="8.60" height="3.93"/><rect x="304.63" y="37.70" width="8.60" height="10.00"/><rect x="315.47" y="43.77" width="8.60" height="3.93"/><rect x="326.30" y="43.06" width="8.60" height="4.64"/><rect x="337.13" y="42.34" width="8.60" height="5.36"/><rect x="347.97" y="28.41" width="8.60" height="19.29"/><rect x="358.80" y="40.20" width="8.60" height="7.50"/><rect x="369.63" y="31.99" width="8.60" height="15.71"/><rect x="380.46" y="36.27" width="8.60" height="11.43"/><rect x="391.30" y="40.91" width="8.60" height="6.79"/><rect x="402.13" y="46.63" width="8.60" height="1.07"/><rect x="412.96" y="47.52" width="8.60" height="0.18"/><rect x="423.80" y="43.77" width="8.60" height="3.93"/><rect x="434.63" y="37.70" width="8.60" height="10.00"/><rect x="445.46" y="17.34" width="8.60" height="30.36"/><rect x="456.30" y="36.99" width="8.60" height="10.71"/><rect x="467.13" y="40.20" width="8.60" height="7.50"/><rect x="477.96" y="37.70" width="8.60" height="10.00"/><rect x="488.79" y="45.91" width="8.60" height="1.79"/><rect x="499.63" y="24.13" width="8.60" height="23.57"/><rect x="510.46" y="42.34" width="8.60" height="5.36"/><rect x="521.29" y="32.70" width="8.60" height="15.00"/><rect x="532.13" y="31.99" width="8.60" height="15.71"/><rect x="542.96" y="26.27" width="8.60" height="21.43"/><rect x="553.79" y="41.63" width="8.60" height="6.07"/><rect x="564.63" y="43.77" width="8.60" height="3.93"/><rect x="575.46" y="40.20" width="8.60" height="7.50"/><rect x="586.29" y="40.91" width="8.60" height="6.79"/><rect x="597.12" y="46.27" width="8.60" height="1.43"/><rect x="607.96" y="45.56" width="8.60" height="2.14"/><rect x="618.79" y="28.41" width="8.60" height="19.29"/><rect x="629.62" y="33.41" width="8.60" height="14.29"/><rect x="640.46" y="31.27" width="8.60" height="16.43"/><rect x="651.29" y="40.20" width="8.60" height="7.50"/><rect x="662.12" y="36.99" width="8.60" height="10.71"/><rect x="672.96" y="25.20" width="8.60" height="22.50"/><rect x="683.79" y="41.63" width="8.60" height="6.07"/><rect x="694.62" y="32.70" width="8.60" height="15.00"/><rect x="705.45" y="40.20" width="8.60" height="7.50"/><rect x="716.29" y="37.70" width="8.60" height="10.00"/><rect x="727.12" y="43.06" width="8.60" height="4.64"/><rect x="737.95" y="29.84" width="8.60" height="17.86"/><rect x="748.79" y="31.99" width="8.60" height="15.71"/><rect x="759.62" y="39.13" width="8.60" height="8.57"/><rect x="770.45" y="24.13" width="8.60" height="23.57"/><rect x="781.29" y="35.56" width="8.60" height="12.14"/><rect x="792.12" y="42.34" width="8.60" height="5.36"/><rect x="802.95" y="38.41" width="8.60" height="9.29"/><rect x="813.78" y="29.13" width="8.60" height="18.57"/><rect x="824.62" y="22.70" width="8.60" height="25.00"/><rect x="835.45" y="41.63" width="8.60" height="6.07"/><rect x="846.28" y="43.77" width="8.60" height="3.93"/><rect x="857.12" y="33.41" width="8.60" height="14.29"/><rect x="867.95" y="40.91" width="8.60" height="6.79"/><rect x="878.78" y="45.91" width="8.60" height="1.79"/><rect x="889.62" y="42.34" width="8.60" height="5.36"/><rect x="900.45" y="43.77" width="8.60" height="3.93"/><rect x="911.28" y="42.34" width="4.42" height="5.36"/></g></svg>
<div class="a" style="left:465.7px;top:307.7px;width:910px;height:0.8px;background:#c9cfdb;"></div>
<div class="a" style="left:471.70000000000005px;top:308px;width:0.8px;height:2.4px;background:#8c95a3;"></div>
<span class="a t" style="left:463.22px;top:312.08px;font-size:7.1px;line-height:9px;color:#1c2b34;">12:00</span>
<div class="a" style="left:536.7px;top:308px;width:0.8px;height:2.4px;background:#8c95a3;"></div>
<span class="a t" style="left:524.94px;top:312.08px;font-size:7.1px;line-height:9px;color:#1c2b34;">Wed 10</span>
<div class="a" style="left:601.7px;top:308px;width:0.8px;height:2.4px;background:#8c95a3;"></div>
<span class="a t" style="left:593.22px;top:312.08px;font-size:7.1px;line-height:9px;color:#1c2b34;">12:00</span>
<div class="a" style="left:666.7px;top:308px;width:0.8px;height:2.4px;background:#8c95a3;"></div>
<span class="a t" style="left:656.32px;top:312.08px;font-size:7.1px;line-height:9px;color:#1c2b34;">Thu 11</span>
<div class="a" style="left:731.7px;top:308px;width:0.8px;height:2.4px;background:#8c95a3;"></div>
<span class="a t" style="left:723.22px;top:312.08px;font-size:7.1px;line-height:9px;color:#1c2b34;">12:00</span>
<div class="a" style="left:796.7px;top:308px;width:0.8px;height:2.4px;background:#8c95a3;"></div>
<span class="a t" style="left:788.03px;top:312.08px;font-size:7.1px;line-height:9px;color:#1c2b34;">Fri 12</span>
<div class="a" style="left:861.7px;top:308px;width:0.8px;height:2.4px;background:#8c95a3;"></div>
<span class="a t" style="left:853.22px;top:312.08px;font-size:7.1px;line-height:9px;color:#1c2b34;">12:00</span>
<div class="a" style="left:926.7px;top:308px;width:0.8px;height:2.4px;background:#8c95a3;"></div>
<span class="a t" style="left:916.85px;top:312.08px;font-size:7.1px;line-height:9px;color:#1c2b34;">Sat 13</span>
<div class="a" style="left:991.7px;top:308px;width:0.8px;height:2.4px;background:#8c95a3;"></div>
<span class="a t" style="left:983.22px;top:312.08px;font-size:7.1px;line-height:9px;color:#1c2b34;">12:00</span>
<div class="a" style="left:1056.6999999999998px;top:308px;width:0.8px;height:2.4px;background:#8c95a3;"></div>
<span class="a t" style="left:1045.47px;top:312.08px;font-size:7.1px;line-height:9px;color:#1c2b34;">May 14</span>
<div class="a" style="left:1121.6999999999998px;top:308px;width:0.8px;height:2.4px;background:#8c95a3;"></div>
<span class="a t" style="left:1113.22px;top:312.08px;font-size:7.1px;line-height:9px;color:#1c2b34;">12:00</span>
<div class="a" style="left:1186.6999999999998px;top:308px;width:0.8px;height:2.4px;background:#8c95a3;"></div>
<span class="a t" style="left:1175.27px;top:312.08px;font-size:7.1px;line-height:9px;color:#1c2b34;">Mon 15</span>
<div class="a" style="left:1251.6999999999998px;top:308px;width:0.8px;height:2.4px;background:#8c95a3;"></div>
<span class="a t" style="left:1243.22px;top:312.08px;font-size:7.1px;line-height:9px;color:#1c2b34;">12:00</span>
<div class="a" style="left:1316.6999999999998px;top:308px;width:0.8px;height:2.4px;background:#8c95a3;"></div>
<span class="a t" style="left:1306.19px;top:312.08px;font-size:7.1px;line-height:9px;color:#1c2b34;">Tue 16</span>
<div class="a" style="left:432.2px;top:348px;width:956.2px;height:283.6px;background:#fff;border:1px solid #e6e8ec;border-radius:3px;"></div>
<span class="a t" style="left:444.00px;top:360.73px;font-size:11.7px;line-height:15px;color:#1c2b34;letter-spacing:0.121px;">Impact</span>
<div class="a" style="left:750px;top:387.6px;width:1px;height:233.5px;background:#e6e8ee;"></div>
<div class="a" style="left:1069px;top:387.6px;width:1px;height:233.5px;background:#e6e8ee;"></div>
<span class="a t" style="left:444.00px;top:392.51px;font-size:9.5px;line-height:12px;color:#1c2b34;font-weight:700;letter-spacing:0.201px;">View Name</span>
<span class="a t" style="left:763.10px;top:392.51px;font-size:9.5px;line-height:12px;color:#1c2b34;font-weight:700;letter-spacing:0.084px;">Country</span>
<span class="a t" style="left:1082.10px;top:392.51px;font-size:9.5px;line-height:12px;color:#1c2b34;font-weight:700;letter-spacing:0.098px;">Browser Name</span>
<span class="a t" style="left:663.93px;top:393.60px;font-size:8.75px;line-height:11px;color:#0b62c4;letter-spacing:0.130px;">View in Analytics</span>
<span class="a t" style="left:982.63px;top:393.60px;font-size:8.75px;line-height:11px;color:#0b62c4;letter-spacing:0.130px;">View in Analytics</span>
<span class="a t" style="left:1301.63px;top:393.60px;font-size:8.75px;line-height:11px;color:#0b62c4;letter-spacing:0.130px;">View in Analytics</span>
<svg class="a" style="left:530px;top:430px;" width="120" height="120" viewBox="0 0 120 120"><circle cx="61" cy="57.9" r="37.6" fill="none" stroke="#93cbfb" stroke-width="24.6"/></svg>
<span class="a t" style="left:577.13px;top:478.97px;font-size:14.6px;line-height:19px;color:#1c2b34;letter-spacing:0.054px;-webkit-text-stroke:0.35px #1c2b34;">3.2k</span>
<div class="a" style="left:444.6px;top:574.4px;width:293px;height:44.6px;background:#fff;border:1px solid #e6e8ec;border-radius:3px;"></div>
<span class="a t" style="left:451.10px;top:578.90px;font-size:8.9px;line-height:12px;color:#6b7685;font-weight:700;letter-spacing:-0.173px;">GREATEST CHANGE</span>
<div class="a" style="left:450.3px;top:598.3px;width:32.3px;height:12.8px;background:#fdf1e1;border-radius:2px;"></div>
<span class="a t" style="left:454.50px;top:600.09px;font-size:8px;line-height:10px;color:#e2661d;font-weight:700;letter-spacing:0.119px;">0%</span>
<div class="a" style="left:470.40000000000003px;top:604.6px;width:8.4px;height:1px;background:#f0a35e;"></div>
<span class="a t" style="left:486.80px;top:599.21px;font-size:9.5px;line-height:12px;color:#1c2b34;letter-spacing:0.259px;">error increase for</span>
<div class="a" style="left:566.5999999999999px;top:598px;width:151.7px;height:13.6px;background:#f1f3f7;border-radius:2px;"></div>
<span class="a t" style="left:569.80px;top:599.21px;font-size:9.5px;line-height:12px;color:#1f3d80;letter-spacing:0.305px;">@view.name:/department/chairs</span>
<svg class="a" style="left:800px;top:400px;" width="200" height="160" viewBox="0 0 200 160"><path d="M109.70 38.30A49.6 49.6 0 0 1 111.60 137.46L110.65 112.68A24.8 24.8 0 0 0 109.70 63.10Z" fill="#93cbfb" stroke="#fff" stroke-width="0.5"/><path d="M111.60 137.46A49.6 49.6 0 0 1 102.37 136.96L106.03 112.43A24.8 24.8 0 0 0 110.65 112.68Z" fill="#b9bfd1" stroke="#fff" stroke-width="0.5"/><path d="M102.37 136.96A49.6 49.6 0 0 1 99.39 136.42L104.54 112.16A24.8 24.8 0 0 0 106.03 112.43Z" fill="#fbc531" stroke="#fff" stroke-width="0.5"/><path d="M99.39 136.42A49.6 49.6 0 0 1 95.20 135.33L102.45 111.62A24.8 24.8 0 0 0 104.54 112.16Z" fill="#6a5ae0" stroke="#fff" stroke-width="0.5"/><path d="M95.20 135.33A49.6 49.6 0 0 1 87.96 132.48L98.83 110.19A24.8 24.8 0 0 0 102.45 111.62Z" fill="#d5c0fb" stroke="#fff" stroke-width="0.5"/><path d="M87.96 132.48A49.6 49.6 0 0 1 78.49 126.45L94.09 107.17A24.8 24.8 0 0 0 98.83 110.19Z" fill="#93cbfb" stroke="#fff" stroke-width="0.5"/><path d="M78.49 126.45A49.6 49.6 0 0 1 68.10 114.91L88.90 101.41A24.8 24.8 0 0 0 94.09 107.17Z" fill="#fde68a" stroke="#fff" stroke-width="0.5"/><path d="M68.10 114.91A49.6 49.6 0 0 1 61.01 97.36L85.36 92.63A24.8 24.8 0 0 0 88.90 101.41Z" fill="#fcc21f" stroke="#fff" stroke-width="0.5"/><path d="M61.01 97.36A49.6 49.6 0 0 1 61.79 75.06L85.75 81.48A24.8 24.8 0 0 0 85.36 92.63Z" fill="#6a5ae0" stroke="#fff" stroke-width="0.5"/><path d="M61.79 75.06A49.6 49.6 0 0 1 78.89 49.03L94.30 68.46A24.8 24.8 0 0 0 85.75 81.48Z" fill="#d5c0fb" stroke="#fff" stroke-width="0.5"/><path d="M78.89 49.03A49.6 49.6 0 0 1 109.70 38.30L109.70 63.10A24.8 24.8 0 0 0 94.30 68.46Z" fill="#2d8de3" stroke="#fff" stroke-width="0.5"/></svg>
<span class="a t" style="left:895.83px;top:478.97px;font-size:14.6px;line-height:19px;color:#1c2b34;letter-spacing:0.054px;-webkit-text-stroke:0.35px #1c2b34;">3.2k</span>
<span class="a t" style="left:857.80px;top:417.60px;font-size:8.75px;line-height:11px;color:#1c2b34;letter-spacing:0.235px;">Ireland</span>
<svg class="a" style="left:850px;top:425px;" width="50" height="15" viewBox="0 0 50 15"><path d="M7.8 6.2H40.2L42.5 11.8" fill="none" stroke="#2d8de3" stroke-width="0.9"/></svg>
<span class="a t" style="left:857.80px;top:434.10px;font-size:8.75px;line-height:11px;color:#1c2b34;font-weight:700;letter-spacing:-0.333px;">341</span>
<span class="a t" style="left:819.90px;top:472.40px;font-size:8.75px;line-height:11px;color:#1c2b34;letter-spacing:-0.148px;">Japan</span>
<div class="a" style="left:819.9px;top:485.9px;width:36.3px;height:0.9px;background:#6a5ae0;"></div>
<span class="a t" style="left:819.90px;top:488.90px;font-size:8.75px;line-height:11px;color:#1c2b34;font-weight:700;letter-spacing:0.067px;">228</span>
<span class="a t" style="left:818.50px;top:515.00px;font-size:8.75px;line-height:11px;color:#1c2b34;font-weight:700;">155</span>
<svg class="a" style="left:815px;top:520px;" width="60" height="12" viewBox="0 0 60 12"><path d="M3.5 8.5H48.8L54.7 3.6" fill="none" stroke="#f7df7e" stroke-width="0.9" stroke-dasharray="1.4 0.8"/></svg>
<span class="a t" style="left:818.50px;top:531.50px;font-size:8.75px;line-height:11px;color:#1c2b34;letter-spacing:0.123px;">Singapore</span>
<span class="a t" style="left:977.17px;top:472.60px;font-size:8.75px;line-height:11px;color:#1c2b34;letter-spacing:0.167px;">United States</span>
<div class="a" style="left:963.8px;top:485.9px;width:67.9px;height:0.9px;background:#93cbfb;"></div>
<span class="a t" style="left:1009.16px;top:488.90px;font-size:8.75px;line-height:11px;color:#1c2b34;font-weight:700;letter-spacing:0.161px;">1.58k</span>
<div class="a" style="left:763.3px;top:574.4px;width:293px;height:44.6px;background:#fff;border:1px solid #e6e8ec;border-radius:3px;"></div>
<span class="a t" style="left:769.80px;top:578.90px;font-size:8.9px;line-height:12px;color:#6b7685;font-weight:700;letter-spacing:-0.173px;">GREATEST CHANGE</span>
<div class="a" style="left:769.0px;top:598.3px;width:37px;height:12.8px;background:#fdf1e1;border-radius:2px;"></div>
<span class="a t" style="left:773.20px;top:600.09px;font-size:8px;line-height:10px;color:#e2661d;font-weight:700;letter-spacing:0.396px;">23%</span>
<svg class="a" style="left:792.8px;top:600.6px;" width="9" height="9" viewBox="0 0 9 9"><path d="M1 8L8 1M2.2 1H8V6.8" fill="none" stroke="#e2661d" stroke-width="1.1"/></svg>
<span class="a t" style="left:810.20px;top:599.21px;font-size:9.5px;line-height:12px;color:#1c2b34;letter-spacing:0.259px;">error increase for</span>
<div class="a" style="left:890.0px;top:598px;width:95.5px;height:13.6px;background:#f1f3f7;border-radius:2px;"></div>
<span class="a t" style="left:893.20px;top:599.21px;font-size:9.5px;line-height:12px;color:#1f3d80;letter-spacing:0.148px;">@geo.country:Brazil</span>
<svg class="a" style="left:1120px;top:400px;" width="200" height="160" viewBox="0 0 200 160"><path d="M108.40 38.30A49.6 49.6 0 0 1 108.40 137.50L108.40 112.70A24.8 24.8 0 0 0 108.40 63.10Z" fill="#93cbfb" stroke="#fff" stroke-width="0.5"/><path d="M108.40 137.50A49.6 49.6 0 0 1 59.88 98.21L84.14 93.06A24.8 24.8 0 0 0 108.40 112.70Z" fill="#d5c0fb" stroke="#fff" stroke-width="0.5"/><path d="M59.88 98.21A49.6 49.6 0 0 1 108.40 38.30L108.40 63.10A24.8 24.8 0 0 0 84.14 93.06Z" fill="#2d8de3" stroke="#fff" stroke-width="0.5"/></svg>
<span class="a t" style="left:1214.53px;top:478.97px;font-size:14.6px;line-height:19px;color:#1c2b34;letter-spacing:0.054px;-webkit-text-stroke:0.35px #1c2b34;">3.2k</span>
<span class="a t" style="left:1155.70px;top:435.80px;font-size:8.75px;line-height:11px;color:#1c2b34;letter-spacing:-0.084px;">Edge</span>
<svg class="a" style="left:1150px;top:444px;" width="45" height="14" viewBox="0 0 45 14"><path d="M5.7 5.3H30.5L36.4 10.6" fill="none" stroke="#2d8de3" stroke-width="0.9"/></svg>
<span class="a t" style="left:1155.70px;top:452.60px;font-size:8.75px;line-height:11px;color:#1c2b34;font-weight:700;letter-spacing:0.100px;">924</span>
<span class="a t" style="left:1159.30px;top:522.20px;font-size:8.75px;line-height:11px;color:#1c2b34;font-weight:700;letter-spacing:0.100px;">672</span>
<svg class="a" style="left:1155px;top:526px;" width="45" height="14" viewBox="0 0 45 14"><path d="M4.3 9.8H35.4L40.3 4.2" fill="none" stroke="#d5c0fb" stroke-width="0.9"/></svg>
<span class="a t" style="left:1159.30px;top:538.70px;font-size:8.75px;line-height:11px;color:#1c2b34;letter-spacing:0.094px;">Firefox</span>
<span class="a t" style="left:1305.44px;top:474.40px;font-size:8.75px;line-height:11px;color:#1c2b34;font-weight:700;letter-spacing:0.241px;">1.61k</span>
<div class="a" style="left:1282.1px;top:487.5px;width:46.2px;height:0.9px;background:#93cbfb;"></div>
<span class="a t" style="left:1295.86px;top:490.90px;font-size:8.75px;line-height:11px;color:#1c2b34;letter-spacing:0.263px;">Chrome</span>
<div class="a" style="left:1082.3px;top:574.4px;width:293px;height:44.6px;background:#fff;border:1px solid #e6e8ec;border-radius:3px;"></div>
<span class="a t" style="left:1088.80px;top:578.90px;font-size:8.9px;line-height:12px;color:#6b7685;font-weight:700;letter-spacing:-0.173px;">GREATEST CHANGE</span>
<div class="a" style="left:1088.0px;top:598.3px;width:37px;height:12.8px;background:#fdf1e1;border-radius:2px;"></div>
<span class="a t" style="left:1092.20px;top:600.09px;font-size:8px;line-height:10px;color:#e2661d;font-weight:700;letter-spacing:0.396px;">25%</span>
<svg class="a" style="left:1111.8px;top:600.6px;" width="9" height="9" viewBox="0 0 9 9"><path d="M1 8L8 1M2.2 1H8V6.8" fill="none" stroke="#e2661d" stroke-width="1.1"/></svg>
<span class="a t" style="left:1129.20px;top:599.21px;font-size:9.5px;line-height:12px;color:#1c2b34;letter-spacing:0.259px;">error increase for</span>
<div class="a" style="left:1209.0px;top:598px;width:102.4px;height:13.6px;background:#f1f3f7;border-radius:2px;"></div>
<span class="a t" style="left:1212.20px;top:599.21px;font-size:9.5px;line-height:12px;color:#1f3d80;letter-spacing:0.070px;">@browser.name:Edge</span>
<span class="a t" style="left:431.80px;top:651.71px;font-size:9.5px;line-height:12px;color:#5f6b7a;letter-spacing:0.157px;">Errors</span>
<div class="a" style="left:464.6px;top:650.7px;width:23.3px;height:13.9px;background:#e2e5ed;border-radius:7px;"></div>
<span class="a t" style="left:469.30px;top:653.38px;font-size:7.3px;line-height:9px;color:#3d4654;letter-spacing:0.641px;">99+</span>
<span class="a t" style="left:511.80px;top:651.71px;font-size:9.5px;line-height:12px;color:#1c2b34;letter-spacing:0.137px;">Error Tracking Issues</span>
<div class="a" style="left:611.4px;top:650.7px;width:15px;height:13.9px;background:#e2e5ed;border-radius:7px;"></div>
<span class="a t" style="left:616.87px;top:653.38px;font-size:7.3px;line-height:9px;color:#3d4654;">4</span>
<div class="a" style="left:511.1px;top:667.6px;width:115.3px;height:2.5px;background:#0b62c4;"></div>
<span class="a t" style="left:648.90px;top:651.71px;font-size:9.5px;line-height:12px;color:#5f6b7a;letter-spacing:-0.034px;">Views</span>
<div class="a" style="left:680px;top:650.7px;width:23.9px;height:13.9px;background:#e2e5ed;border-radius:7px;"></div>
<span class="a t" style="left:684.90px;top:653.38px;font-size:7.3px;line-height:9px;color:#3d4654;letter-spacing:0.641px;">99+</span>
<div class="a" style="left:420.4px;top:670.5px;width:980px;height:1px;background:#e6e8ec;"></div>
<span class="a t" style="left:431.80px;top:687.91px;font-size:9.5px;line-height:12px;color:#1c2b34;font-weight:700;letter-spacing:-0.087px;">4 issues found</span>
<div class="a" style="left:431.8px;top:709px;width:956.6px;height:100px;background:#fff;border:1px solid #e6e8ec;border-radius:3px;"></div>
<div class="a" style="left:432.8px;top:729px;width:954px;height:1px;background:#e6e8ec;"></div>
<span class="a t" style="left:437.50px;top:715.19px;font-size:8px;line-height:10px;color:#1c2b34;font-weight:700;letter-spacing:0.065px;">ISSUE DETAILS</span>
<span class="a t" style="left:913.60px;top:715.19px;font-size:8px;line-height:10px;color:#1c2b34;font-weight:700;letter-spacing:0.188px;">IMPACTED SESSIONS</span>
<span class="a t" style="left:1077.50px;top:715.19px;font-size:8px;line-height:10px;color:#1c2b34;font-weight:700;letter-spacing:0.140px;">ERROR COUNT</span>
<span class="a t" style="left:1214.60px;top:715.19px;font-size:8px;line-height:10px;color:#1c2b34;font-weight:700;letter-spacing:0.380px;">VOLUME</span>
<div class="a" style="left:437.9px;top:739px;width:3.5px;height:60px;background:#e8384f;border-radius:1.5px;"></div>
<div class="a" style="left:453.9px;top:743.2px;width:10.7px;height:10px;background:#f5d600;border-radius:1px;"></div>
<span class="a t" style="left:456.40px;top:746.47px;font-size:6.4px;line-height:8px;color:#1c2b34;font-weight:700;letter-spacing:-0.108px;">JS</span>
<span class="a t" style="left:469.60px;top:740.63px;font-size:11.7px;line-height:15px;color:#1c2b34;font-weight:700;letter-spacing:-0.354px;">TypeError</span>
<span class="a t" style="left:527.90px;top:742.41px;font-size:9.5px;line-height:12px;color:#5f6b7a;letter-spacing:0.350px;">pages/department/_dept/index.vue</span>
<span class="a t" style="left:453.90px;top:759.91px;font-size:9.5px;line-height:12px;color:#1c2b34;letter-spacing:0.283px;">Cannot read properties of undefined (reading &#x27;url&#x27;)</span>
<span class="a t" style="left:453.90px;top:777.41px;font-size:9.5px;line-height:12px;color:#5f6b7a;letter-spacing:0.136px;">Last seen 12 minutes ago – over 1 year old</span>
<div class="a" style="left:648.7px;top:778px;width:1px;height:11px;background:#d0d5e0;"></div>
<svg class="a" style="left:655.7px;top:778.4px;" width="10" height="10" viewBox="0 0 10 10"><g fill="none" stroke="#5f6b7a" stroke-width="0.8"><circle cx="5" cy="5" r="4.4"/><ellipse cx="5" cy="5" rx="2" ry="4.4"/><path d="M0.6 5H9.4M5 0.6V9.4"/></g></svg>
<span class="a t" style="left:668.90px;top:777.41px;font-size:9.5px;line-height:12px;color:#1c2b34;letter-spacing:0.246px;">shopist-web-ui</span>
<span class="a t" style="left:913.60px;top:759.91px;font-size:9.5px;line-height:12px;color:#1c2b34;font-weight:700;letter-spacing:0.165px;">2.41k</span>
<span class="a t" style="left:1077.50px;top:759.91px;font-size:9.5px;line-height:12px;color:#1c2b34;letter-spacing:-0.008px;">2.50k</span>
<svg class="a" style="left:1210px;top:750px;" width="90" height="30" viewBox="0 0 90 30"><g fill="#e0262d"><rect x="4.60" y="11.46" width="5.5" height="17.14"/><rect x="11.85" y="19.31" width="5.5" height="9.29"/><rect x="19.10" y="7.17" width="5.5" height="21.43"/><rect x="26.35" y="17.89" width="5.5" height="10.71"/><rect x="33.60" y="16.10" width="5.5" height="12.50"/><rect x="40.85" y="15.03" width="5.5" height="13.57"/><rect x="48.10" y="18.60" width="5.5" height="10.00"/><rect x="55.35" y="15.03" width="5.5" height="13.57"/><rect x="62.60" y="13.24" width="5.5" height="15.36"/><rect x="69.85" y="17.89" width="5.5" height="10.71"/></g><path d="M25.5 7.1H77.5" stroke="#3d4654" stroke-width="0.7" stroke-dasharray="2 1.1"/></svg>
<span class="a t" style="left:1288.60px;top:751.80px;font-size:8.75px;line-height:11px;color:#5f6b7a;letter-spacing:-0.100px;">383</span>
</div></body></html>
